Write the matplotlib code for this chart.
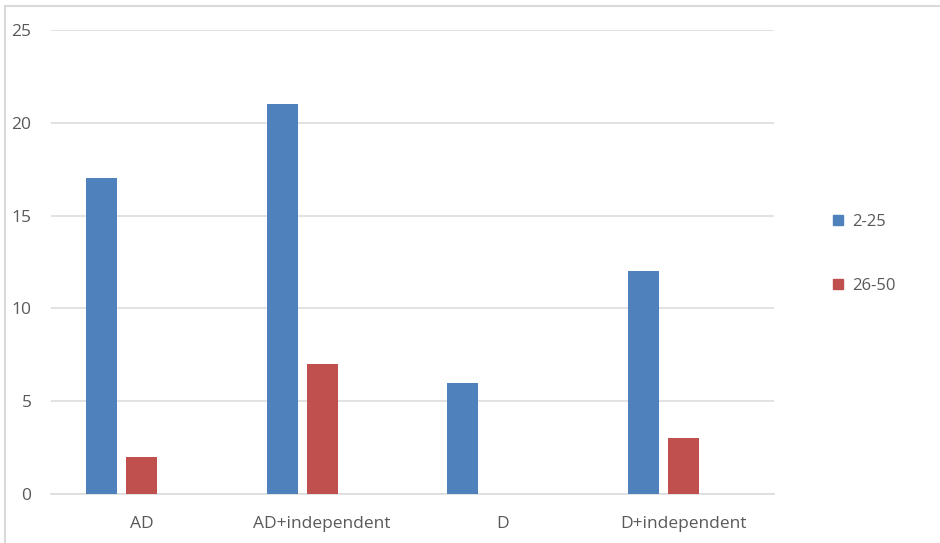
import matplotlib
matplotlib.use("Agg")
import matplotlib.pyplot as plt
from matplotlib.lines import Line2D
import numpy as np

categories = ["AD", "AD+independent", "D", "D+independent"]
series_names = ["2-25", "26-50"]
values_2_25 = [17, 21, 6, 12]
values_26_50 = [2, 7, 0, 3]
yticks = [0, 5, 10, 15, 20, 25]

colors = ["#4F81BD", "#C0504D"]
txt = "#595959"
plt.rcParams['font.family'] = ['Open Sans', 'DejaVu Sans']

fig = plt.figure(figsize=(9.4, 5.43), dpi=100)
ax = fig.add_axes([51/940, 49/543, (774-51)/940, (494-30)/543])

x = np.arange(len(categories))
w = 0.172
off = 0.221
ax.bar(x - off, values_2_25, width=w, color=colors[0], zorder=3)
ax.bar(x, values_26_50, width=w, color=colors[1], zorder=3)

ax.set_xlim(-0.5, len(categories) - 0.5)
ax.set_ylim(0, 25)
ax.set_yticks(yticks)
ax.set_xticks(x)
ax.set_xticklabels(categories)
ax.yaxis.grid(True, color="#DDDDDD", linewidth=1.2, zorder=0)
for s in ["top", "right", "left"]:
    ax.spines[s].set_visible(False)
ax.spines["bottom"].set_color("#DDDDDD")
ax.spines["bottom"].set_linewidth(1.2)
ax.tick_params(axis="both", length=0, labelsize=12.5, colors=txt)
ax.tick_params(axis="y", pad=14)
ax.tick_params(axis="x", pad=15.5)

handles = [Line2D([], [], marker="s", linestyle="none", markersize=6.5,
                  color=c) for c in colors]
fig.legend(handles, series_names, loc="center left",
           bbox_to_anchor=(816/940, 1 - 254/543), frameon=False,
           fontsize=12, labelcolor=txt, labelspacing=2.9,
           handlelength=0.8, handletextpad=0.45)

# chart border (top and left)
fig.add_artist(Line2D([5/940, 1], [1 - 6/543, 1 - 6/543], color="#D9D9D9",
                      linewidth=1.5, transform=fig.transFigure))
fig.add_artist(Line2D([5/940, 5/940], [0, 1 - 6/543], color="#D9D9D9",
                      linewidth=1.5, transform=fig.transFigure))

fig.savefig("out.png", dpi=100)
